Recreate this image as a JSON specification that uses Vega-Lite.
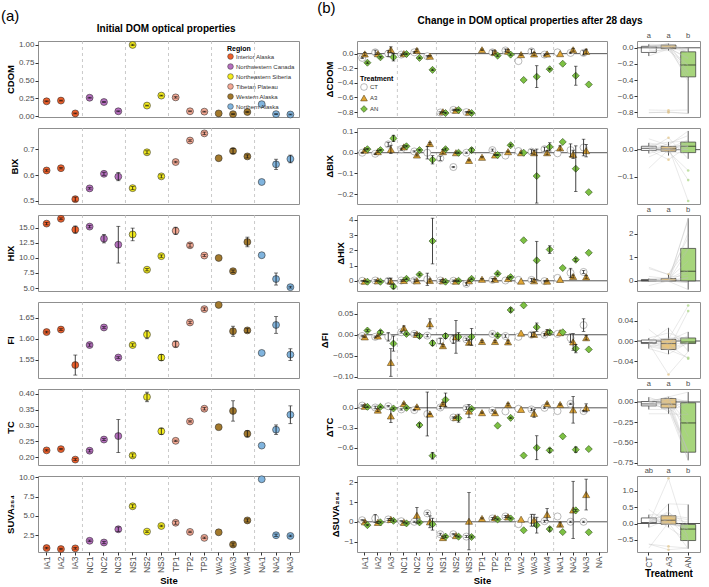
{
"$schema": "https://vega.github.io/schema/vega-lite/v6.json",
"background": "white",
"padding": {"left": 0, "top": 0, "right": 0, "bottom": 0},
"config": {
  "font": "Liberation Sans",
  "view": {"stroke": "#8F8F8F", "strokeWidth": 1},
  "axis": {"grid": false, "domain": false, "tickColor": "#333333", "tickSize": 3, "labelFontSize": 8, "labelColor": "#4D4D4D", "titleFontSize": 9.5, "titleFontWeight": "bold", "titleColor": "#000000", "labelPadding": 1, "titlePadding": 3, "labelOverlap": false},
  "legend": {"titleFontSize": 7, "titleFontWeight": "bold", "labelFontSize": 6, "titleColor": "#000000", "labelColor": "#333333", "padding": 1, "rowPadding": 1, "titlePadding": 1, "labelOffset": 2},
  "title": {"color": "#000000"}
},
"datasets": {
  "sep": [{"site": "NC1"}, {"site": "NS1"}, {"site": "TP1"}, {"site": "WA2"}, {"site": "NA1"}],
  "a": [
    {"site": "IA1", "region": "Interior Alaska", "CDOM": 0.21, "eCDOM": 0.006, "BIX": 0.618, "eBIX": 0.003, "HIX": 15.7, "eHIX": 0.2, "FI": 1.616, "eFI": 0.002, "TC": 0.222, "eTC": 0.002, "SUVA": 0.84, "eSUVA": 0.1},
    {"site": "IA2", "region": "Interior Alaska", "CDOM": 0.22, "eCDOM": 0.006, "BIX": 0.627, "eBIX": 0.003, "HIX": 16.5, "eHIX": 0.15, "FI": 1.622, "eFI": 0.002, "TC": 0.226, "eTC": 0.002, "SUVA": 0.71, "eSUVA": 0.1},
    {"site": "IA3", "region": "Interior Alaska", "CDOM": 0.04, "eCDOM": 0.006, "BIX": 0.506, "eBIX": 0.008, "HIX": 14.7, "eHIX": 0.6, "FI": 1.537, "eFI": 0.024, "TC": 0.193, "eTC": 0.003, "SUVA": 0.8, "eSUVA": 0.1},
    {"site": "NC1", "region": "Northwestern Canada", "CDOM": 0.26, "eCDOM": 0.006, "BIX": 0.548, "eBIX": 0.003, "HIX": 15.2, "eHIX": 0.2, "FI": 1.585, "eFI": 0.003, "TC": 0.221, "eTC": 0.004, "SUVA": 1.78, "eSUVA": 0.1},
    {"site": "NC2", "region": "Northwestern Canada", "CDOM": 0.2, "eCDOM": 0.006, "BIX": 0.605, "eBIX": 0.006, "HIX": 13.2, "eHIX": 0.7, "FI": 1.627, "eFI": 0.002, "TC": 0.256, "eTC": 0.003, "SUVA": 1.56, "eSUVA": 0.15},
    {"site": "NC3", "region": "Northwestern Canada", "CDOM": 0.07, "eCDOM": 0.006, "BIX": 0.594, "eBIX": 0.016, "HIX": 12.2, "eHIX": 3.05, "FI": 1.555, "eFI": 0.002, "TC": 0.267, "eTC": 0.052, "SUVA": 3.27, "eSUVA": 0.3},
    {"site": "NS1", "region": "Northeastern Siberia", "CDOM": 1.0, "eCDOM": 0.01, "BIX": 0.549, "eBIX": 0.006, "HIX": 13.9, "eHIX": 1.05, "FI": 1.585, "eFI": 0.003, "TC": 0.206, "eTC": 0.005, "SUVA": 6.25, "eSUVA": 0.2},
    {"site": "NS2", "region": "Northeastern Siberia", "CDOM": 0.15, "eCDOM": 0.006, "BIX": 0.689, "eBIX": 0.006, "HIX": 8.05, "eHIX": 0.2, "FI": 1.61, "eFI": 0.01, "TC": 0.39, "eTC": 0.015, "SUVA": 2.97, "eSUVA": 0.1},
    {"site": "NS3", "region": "Northeastern Siberia", "CDOM": 0.29, "eCDOM": 0.006, "BIX": 0.595, "eBIX": 0.006, "HIX": 10.3, "eHIX": 0.2, "FI": 1.555, "eFI": 0.007, "TC": 0.282, "eTC": 0.01, "SUVA": 3.7, "eSUVA": 0.1},
    {"site": "TP1", "region": "Tibetan Plateau", "CDOM": 0.265, "eCDOM": 0.01, "BIX": 0.651, "eBIX": 0.003, "HIX": 14.5, "eHIX": 0.6, "FI": 1.587, "eFI": 0.007, "TC": 0.252, "eTC": 0.002, "SUVA": 4.12, "eSUVA": 0.2},
    {"site": "TP2", "region": "Tibetan Plateau", "CDOM": 0.07, "eCDOM": 0.006, "BIX": 0.735, "eBIX": 0.003, "HIX": 12.1, "eHIX": 0.3, "FI": 1.639, "eFI": 0.003, "TC": 0.313, "eTC": 0.002, "SUVA": 2.93, "eSUVA": 0.1},
    {"site": "TP3", "region": "Tibetan Plateau", "CDOM": 0.065, "eCDOM": 0.006, "BIX": 0.763, "eBIX": 0.005, "HIX": 10.4, "eHIX": 0.15, "FI": 1.671, "eFI": 0.003, "TC": 0.353, "eTC": 0.004, "SUVA": 2.16, "eSUVA": 0.1},
    {"site": "WA2", "region": "Western Alaska", "CDOM": 0.04, "eCDOM": 0, "BIX": 0.666, "eBIX": 0, "HIX": 10.0, "eHIX": 0, "FI": 1.681, "eFI": 0, "TC": 0.295, "eTC": 0, "SUVA": 2.88, "eSUVA": 0},
    {"site": "WA3", "region": "Western Alaska", "CDOM": 0.03, "eCDOM": 0.006, "BIX": 0.694, "eBIX": 0.01, "HIX": 7.8, "eHIX": 0.2, "FI": 1.618, "eFI": 0.012, "TC": 0.346, "eTC": 0.032, "SUVA": 1.3, "eSUVA": 0.2},
    {"site": "WA4", "region": "Western Alaska", "CDOM": 0.06, "eCDOM": 0.006, "BIX": 0.673, "eBIX": 0.006, "HIX": 12.65, "eHIX": 0.8, "FI": 1.62, "eFI": 0.005, "TC": 0.274, "eTC": 0.01, "SUVA": 4.42, "eSUVA": 0.2},
    {"site": "NA1", "region": "Northern Alaska", "CDOM": 0.17, "eCDOM": 0, "BIX": 0.573, "eBIX": 0, "HIX": 10.45, "eHIX": 0, "FI": 1.566, "eFI": 0, "TC": 0.237, "eTC": 0, "SUVA": 9.75, "eSUVA": 0},
    {"site": "NA2", "region": "Northern Alaska", "CDOM": 0.03, "eCDOM": 0.006, "BIX": 0.642, "eBIX": 0.02, "HIX": 6.5, "eHIX": 1.0, "FI": 1.633, "eFI": 0.02, "TC": 0.287, "eTC": 0.015, "SUVA": 2.5, "eSUVA": 0.15},
    {"site": "NA3", "region": "Northern Alaska", "CDOM": 0.025, "eCDOM": 0.006, "BIX": 0.663, "eBIX": 0.015, "HIX": 5.15, "eHIX": 0.15, "FI": 1.562, "eFI": 0.014, "TC": 0.334, "eTC": 0.028, "SUVA": 2.41, "eSUVA": 0.1}
  ],
  "b": [
    {"s": "IA1", "t": "CT", "CDOM": -0.058, "eCDOM": 0.01, "BIX": 0, "eBIX": 0.002, "HIX": 0, "eHIX": 0.03, "FI": -0.003, "eFI": 0.002, "TC": 0.034, "eTC": 0.01, "SUVA": 0.08, "eSUVA": 0.03},
    {"s": "IA1", "t": "A3", "CDOM": -0.004, "eCDOM": 0.02, "BIX": 0.0125, "eBIX": 0.005, "HIX": -0.02, "eHIX": 0.03, "FI": -0.005, "eFI": 0.002, "TC": 0.024, "eTC": 0.02, "SUVA": 0, "eSUVA": 0.05},
    {"s": "IA1", "t": "AN", "CDOM": -0.124, "eCDOM": 0.01, "BIX": 0.017, "eBIX": 0.003, "HIX": -0.06, "eHIX": 0.03, "FI": 0.01, "eFI": 0.002, "TC": 0.015, "eTC": 0.01, "SUVA": -0.17, "eSUVA": 0.03},
    {"s": "IA2", "t": "CT", "CDOM": 0.018, "eCDOM": 0.03, "BIX": -0.005, "eBIX": 0.003, "HIX": 0.02, "eHIX": 0.05, "FI": -0.005, "eFI": 0.002, "TC": 0.005, "eTC": 0.02, "SUVA": 0.17, "eSUVA": 0.2},
    {"s": "IA2", "t": "A3", "CDOM": 0, "eCDOM": 0.01, "BIX": 0.005, "eBIX": 0.005, "HIX": 0, "eHIX": 0.03, "FI": -0.003, "eFI": 0.002, "TC": -0.034, "eTC": 0.02, "SUVA": -0.03, "eSUVA": 0.05},
    {"s": "IA2", "t": "AN", "CDOM": -0.05, "eCDOM": 0.01, "BIX": 0.0125, "eBIX": 0.003, "HIX": -0.06, "eHIX": 0.03, "FI": 0.006, "eFI": 0.004, "TC": 0.015, "eTC": 0.01, "SUVA": -0.03, "eSUVA": 0.03},
    {"s": "IA3", "t": "CT", "CDOM": 0, "eCDOM": 0.04, "BIX": 0.04, "eBIX": 0.01, "HIX": 0, "eHIX": 0.15, "FI": -0.005, "eFI": 0.01, "TC": 0.024, "eTC": 0.01, "SUVA": 0.12, "eSUVA": 0.05},
    {"s": "IA3", "t": "A3", "CDOM": 0.053, "eCDOM": 0.04, "BIX": 0.016, "eBIX": 0.02, "HIX": -0.02, "eHIX": 0.2, "FI": -0.066, "eFI": 0.033, "TC": -0.122, "eTC": 0.1, "SUVA": 0.12, "eSUVA": 0.05},
    {"s": "IA3", "t": "AN", "CDOM": -0.05, "eCDOM": 0.05, "BIX": 0.069, "eBIX": 0.015, "HIX": -0.37, "eHIX": 0.15, "FI": -0.021, "eFI": 0.018, "TC": -0.01, "eTC": 0.01, "SUVA": 0.05, "eSUVA": 0.05},
    {"s": "NC1", "t": "CT", "CDOM": -0.013, "eCDOM": 0.01, "BIX": 0.017, "eBIX": 0.005, "HIX": 0.02, "eHIX": 0.05, "FI": 0.006, "eFI": 0.002, "TC": -0.024, "eTC": 0.01, "SUVA": 0.03, "eSUVA": 0.03},
    {"s": "NC1", "t": "A3", "CDOM": 0, "eCDOM": 0.01, "BIX": 0.028, "eBIX": 0.005, "HIX": 0.02, "eHIX": 0.05, "FI": 0.016, "eFI": 0.005, "TC": 0.063, "eTC": 0.01, "SUVA": -0.03, "eSUVA": 0.03},
    {"s": "NC1", "t": "AN", "CDOM": -0.005, "eCDOM": 0.01, "BIX": 0.031, "eBIX": 0.003, "HIX": 0.13, "eHIX": 0.05, "FI": 0.002, "eFI": 0.002, "TC": 0, "eTC": 0.01, "SUVA": -0.08, "eSUVA": 0.03},
    {"s": "NC2", "t": "CT", "CDOM": 0.018, "eCDOM": 0.01, "BIX": 0.006, "eBIX": 0.003, "HIX": 0.02, "eHIX": 0.1, "FI": 0.002, "eFI": 0.003, "TC": -0.034, "eTC": 0.01, "SUVA": 0, "eSUVA": 0.03},
    {"s": "NC2", "t": "A3", "CDOM": 0.044, "eCDOM": 0.02, "BIX": -0.011, "eBIX": 0.005, "HIX": 0, "eHIX": 0.05, "FI": 0.001, "eFI": 0.003, "TC": 0.015, "eTC": 0.01, "SUVA": 0.33, "eSUVA": 0.4},
    {"s": "NC2", "t": "AN", "CDOM": -0.058, "eCDOM": 0.01, "BIX": 0.0125, "eBIX": 0.003, "HIX": 0.41, "eHIX": 0.05, "FI": -0.003, "eFI": 0.005, "TC": -0.259, "eTC": 0.03, "SUVA": -0.03, "eSUVA": 0.03},
    {"s": "NC3", "t": "CT", "CDOM": -0.035, "eCDOM": 0.01, "BIX": 0, "eBIX": 0.03, "HIX": 0.1, "eHIX": 0.4, "FI": -0.002, "eFI": 0.003, "TC": -0.093, "eTC": 0.33, "SUVA": 0.43, "eSUVA": 0.05},
    {"s": "NC3", "t": "A3", "CDOM": -0.035, "eCDOM": 0.01, "BIX": 0.044, "eBIX": 0.006, "HIX": 0.02, "eHIX": 0.1, "FI": 0.026, "eFI": 0.012, "TC": -0.093, "eTC": 0.01, "SUVA": 0, "eSUVA": 0.3},
    {"s": "NC3", "t": "AN", "CDOM": -0.222, "eCDOM": 0.01, "BIX": -0.034, "eBIX": 0.02, "HIX": 2.61, "eHIX": 1.5, "FI": -0.02, "eFI": 0.006, "TC": -0.72, "eTC": 0.05, "SUVA": -0.12, "eSUVA": 0.3},
    {"s": "NS1", "t": "CT", "CDOM": -0.805, "eCDOM": 0.01, "BIX": -0.027, "eBIX": 0.01, "HIX": 0.02, "eHIX": 0.05, "FI": -0.015, "eFI": 0.006, "TC": 0.005, "eTC": 0.02, "SUVA": -0.63, "eSUVA": 0.05},
    {"s": "NS1", "t": "A3", "CDOM": -0.795, "eCDOM": 0.01, "BIX": 0.005, "eBIX": 0.01, "HIX": 0, "eHIX": 0.1, "FI": -0.026, "eFI": 0.003, "TC": 0.063, "eTC": 0.02, "SUVA": -0.8, "eSUVA": 0.05},
    {"s": "NS1", "t": "AN", "CDOM": -0.813, "eCDOM": 0.01, "BIX": 0.017, "eBIX": 0.005, "HIX": -0.06, "eHIX": 0.05, "FI": -0.003, "eFI": 0.006, "TC": 0.122, "eTC": 0.1, "SUVA": -0.75, "eSUVA": 0.05},
    {"s": "NS2", "t": "CT", "CDOM": -0.77, "eCDOM": 0.01, "BIX": -0.069, "eBIX": 0.003, "HIX": 0, "eHIX": 0.05, "FI": -0.011, "eFI": 0.01, "TC": -0.146, "eTC": 0.01, "SUVA": -0.63, "eSUVA": 0.03},
    {"s": "NS2", "t": "A3", "CDOM": -0.775, "eCDOM": 0.01, "BIX": 0, "eBIX": 0.003, "HIX": -0.02, "eHIX": 0.05, "FI": -0.005, "eFI": 0.039, "TC": -0.146, "eTC": 0.01, "SUVA": -0.7, "eSUVA": 0.03},
    {"s": "NS2", "t": "AN", "CDOM": -0.77, "eCDOM": 0.01, "BIX": 0, "eBIX": 0.003, "HIX": 0, "eHIX": 0.05, "FI": -0.005, "eFI": 0.01, "TC": -0.156, "eTC": 0.06, "SUVA": -0.75, "eSUVA": 0.03},
    {"s": "NS3", "t": "CT", "CDOM": -0.8, "eCDOM": 0.01, "BIX": 0, "eBIX": 0.003, "HIX": -0.2, "eHIX": 0.1, "FI": -0.011, "eFI": 0.003, "TC": -0.005, "eTC": 0.02, "SUVA": -0.75, "eSUVA": 0.05},
    {"s": "NS3", "t": "A3", "CDOM": -0.8, "eCDOM": 0.01, "BIX": -0.037, "eBIX": 0.003, "HIX": 0, "eHIX": 0.05, "FI": -0.018, "eFI": 0.006, "TC": -0.049, "eTC": 0.1, "SUVA": 0.03, "eSUVA": 1.45},
    {"s": "NS3", "t": "AN", "CDOM": -0.813, "eCDOM": 0.01, "BIX": 0.0125, "eBIX": 0.01, "HIX": 0.13, "eHIX": 0.05, "FI": -0.005, "eFI": 0.02, "TC": -0.015, "eTC": 0.01, "SUVA": -0.77, "eSUVA": 0.05},
    {"s": "TP1", "t": "A3", "CDOM": 0.053, "eCDOM": 0.01, "BIX": -0.022, "eBIX": 0.003, "HIX": 0.1, "eHIX": 0.05, "FI": -0.016, "eFI": 0.003, "TC": -0.073, "eTC": 0.01, "SUVA": 0.17, "eSUVA": 0.03},
    {"s": "TP2", "t": "CT", "CDOM": 0.018, "eCDOM": 0.03, "BIX": 0.0125, "eBIX": 0.005, "HIX": 0.06, "eHIX": 0.1, "FI": 0.002, "eFI": 0.002, "TC": -0.039, "eTC": 0.01, "SUVA": 0.17, "eSUVA": 0.05},
    {"s": "TP2", "t": "A3", "CDOM": 0.018, "eCDOM": 0.02, "BIX": -0.011, "eBIX": 0.003, "HIX": 0.1, "eHIX": 0.05, "FI": -0.016, "eFI": 0.003, "TC": -0.073, "eTC": 0.01, "SUVA": 0.2, "eSUVA": 0.05},
    {"s": "TP2", "t": "AN", "CDOM": -0.027, "eCDOM": 0.01, "BIX": -0.011, "eBIX": 0.003, "HIX": 0.47, "eHIX": 0.05, "FI": -0.002, "eFI": 0.003, "TC": -0.268, "eTC": 0, "SUVA": 0.12, "eSUVA": 0.03},
    {"s": "TP3", "t": "CT", "CDOM": 0.044, "eCDOM": 0.02, "BIX": -0.014, "eBIX": 0, "HIX": 0.02, "eHIX": 0, "FI": -0.003, "eFI": 0.003, "TC": -0.054, "eTC": 0, "SUVA": 0.27, "eSUVA": 0.05},
    {"s": "TP3", "t": "A3", "CDOM": 0.035, "eCDOM": 0.02, "BIX": 0.005, "eBIX": 0.003, "HIX": 0.15, "eHIX": 0.05, "FI": -0.017, "eFI": 0.004, "TC": 0.049, "eTC": 0.02, "SUVA": 0.25, "eSUVA": 0.05},
    {"s": "TP3", "t": "AN", "CDOM": -0.013, "eCDOM": 0.01, "BIX": 0.036, "eBIX": 0.005, "HIX": 0.24, "eHIX": 0.05, "FI": 0.059, "eFI": 0.005, "TC": -0.151, "eTC": 0.01, "SUVA": 0.17, "eSUVA": 0.03},
    {"s": "WA2", "t": "CT", "CDOM": -0.102, "eCDOM": 0, "BIX": 0.008, "eBIX": 0, "HIX": 0.06, "eHIX": 0, "FI": -0.005, "eFI": 0, "TC": -0.015, "eTC": 0, "SUVA": -0.12, "eSUVA": 0},
    {"s": "WA2", "t": "A3", "CDOM": -0.013, "eCDOM": 0.01, "BIX": 0, "eBIX": 0.003, "HIX": -0.02, "eHIX": 0, "FI": 0.004, "eFI": 0, "TC": -0.024, "eTC": 0, "SUVA": 0.13, "eSUVA": 0},
    {"s": "WA2", "t": "AN", "CDOM": -0.36, "eCDOM": 0, "BIX": 0, "eBIX": 0, "HIX": 2.66, "eHIX": 0, "FI": 0.07, "eFI": 0, "TC": -0.717, "eTC": 0, "SUVA": -0.43, "eSUVA": 0},
    {"s": "WA3", "t": "CT", "CDOM": 0.031, "eCDOM": 0.03, "BIX": 0.005, "eBIX": 0.01, "HIX": 0.06, "eHIX": 0.1, "FI": 0, "eFI": 0.005, "TC": -0.024, "eTC": 0.02, "SUVA": 0.08, "eSUVA": 0.3},
    {"s": "WA3", "t": "A3", "CDOM": -0.004, "eCDOM": 0.02, "BIX": 0, "eBIX": 0.01, "HIX": 0, "eHIX": 0.1, "FI": 0.001, "eFI": 0.005, "TC": -0.083, "eTC": 0.06, "SUVA": 0.08, "eSUVA": 0.3},
    {"s": "WA3", "t": "AN", "CDOM": -0.315, "eCDOM": 0.15, "BIX": -0.1125, "eBIX": 0.13, "HIX": 1.34, "eHIX": 1.25, "FI": 0.018, "eFI": 0.01, "TC": -0.6, "eTC": 0.18, "SUVA": -0.17, "eSUVA": 0.4},
    {"s": "WA4", "t": "CT", "CDOM": -0.013, "eCDOM": 0.01, "BIX": 0.017, "eBIX": 0.01, "HIX": -0.02, "eHIX": 0.05, "FI": 0, "eFI": 0.003, "TC": 0, "eTC": 0.01, "SUVA": 0.03, "eSUVA": 0.05},
    {"s": "WA4", "t": "A3", "CDOM": -0.004, "eCDOM": 0.01, "BIX": 0, "eBIX": 0.01, "HIX": -0.02, "eHIX": 0.05, "FI": 0.006, "eFI": 0.006, "TC": 0.063, "eTC": 0.01, "SUVA": 0.37, "eSUVA": 0.3},
    {"s": "WA4", "t": "AN", "CDOM": -0.213, "eCDOM": 0.01, "BIX": 0.028, "eBIX": 0.02, "HIX": 2.05, "eHIX": 0.25, "FI": 0.006, "eFI": 0.004, "TC": -0.639, "eTC": 0.03, "SUVA": -0.37, "eSUVA": 0.1},
    {"s": "NA1", "t": "CT", "CDOM": 0.018, "eCDOM": 0, "BIX": -0.003, "eBIX": 0, "HIX": 0.19, "eHIX": 0, "FI": 0.002, "eFI": 0, "TC": -0.049, "eTC": 0, "SUVA": 0.27, "eSUVA": 0},
    {"s": "NA1", "t": "A3", "CDOM": 0, "eCDOM": 0, "BIX": 0.023, "eBIX": 0.01, "HIX": 0.09, "eHIX": 0, "FI": 0.005, "eFI": 0, "TC": 0.049, "eTC": 0.01, "SUVA": -0.12, "eSUVA": 0.1},
    {"s": "NA1", "t": "AN", "CDOM": -0.138, "eCDOM": 0, "BIX": 0.052, "eBIX": 0, "HIX": 0.84, "eHIX": 0, "FI": 0.006, "eFI": 0, "TC": -0.429, "eTC": 0, "SUVA": -0.52, "eSUVA": 0},
    {"s": "NA2", "t": "CT", "CDOM": 0.01, "eCDOM": 0.01, "BIX": 0.0125, "eBIX": 0.03, "HIX": 0.52, "eHIX": 0.3, "FI": -0.008, "eFI": 0.01, "TC": 0.059, "eTC": 0.01, "SUVA": 0, "eSUVA": 0.03},
    {"s": "NA2", "t": "A3", "CDOM": 0.053, "eCDOM": 0.02, "BIX": -0.008, "eBIX": 0.02, "HIX": 0.28, "eHIX": 0.1, "FI": -0.017, "eFI": 0.02, "TC": -0.03, "eTC": 0.2, "SUVA": 0.6, "eSUVA": 1.45},
    {"s": "NA2", "t": "AN", "CDOM": -0.302, "eCDOM": 0.13, "BIX": -0.077, "eBIX": 0.11, "HIX": 1.38, "eHIX": 0.1, "FI": -0.033, "eFI": 0.01, "TC": -0.629, "eTC": 0.04, "SUVA": 0.58, "eSUVA": 0.05},
    {"s": "NA3", "t": "CT", "CDOM": 0.01, "eCDOM": 0.03, "BIX": 0.025, "eBIX": 0.04, "HIX": 0.58, "eHIX": 0.1, "FI": 0.023, "eFI": 0.015, "TC": -0.049, "eTC": 0.01, "SUVA": 0, "eSUVA": 0.03},
    {"s": "NA3", "t": "A3", "CDOM": 0.031, "eCDOM": 0.03, "BIX": 0.01, "eBIX": 0.03, "HIX": 0.26, "eHIX": 0.1, "FI": -0.007, "eFI": 0.005, "TC": 0, "eTC": 0.06, "SUVA": 1.38, "eSUVA": 0.78},
    {"s": "NA3", "t": "AN", "CDOM": -0.422, "eCDOM": 0, "BIX": -0.19, "eBIX": 0, "HIX": 1.84, "eHIX": 0, "FI": -0.035, "eFI": 0, "TC": -0.62, "eTC": 0, "SUVA": -0.53, "eSUVA": 0}
  ],
  "letters": [
    {"m": "CDOM", "t": "CT", "l": "a"}, {"m": "CDOM", "t": "A3", "l": "a"}, {"m": "CDOM", "t": "AN", "l": "b"},
    {"m": "HIX", "t": "CT", "l": "a"}, {"m": "HIX", "t": "A3", "l": "a"}, {"m": "HIX", "t": "AN", "l": "b"},
    {"m": "TC", "t": "CT", "l": "a"}, {"m": "TC", "t": "A3", "l": "a"}, {"m": "TC", "t": "AN", "l": "b"},
    {"m": "SUVA", "t": "CT", "l": "ab"}, {"m": "SUVA", "t": "A3", "l": "a"}, {"m": "SUVA", "t": "AN", "l": "b"}
  ]
},
"resolve": {"scale": {"color": "independent", "fill": "independent", "shape": "independent", "stroke": "independent"}},
"spacing": 17,
"hconcat": [
{
  "title": {"text": "(a)", "anchor": "start", "frame": "bounds", "fontSize": 15, "fontWeight": "normal", "offset": 0, "dx": -4},
  "resolve": {"scale": {"color": "independent", "fill": "independent", "shape": "independent", "stroke": "independent"}},
  "vconcat": [
  {
    "title": {"text": "Initial DOM optical properties", "anchor": "middle", "frame": "bounds", "fontSize": 10, "fontWeight": "bold", "offset": 6, "dx": 14},
    "bounds": "flush",
    "spacing": 11,
    "resolve": {"scale": {"color": "independent", "fill": "independent", "shape": "independent", "stroke": "independent"}},
    "vconcat": [
      {"width": 261, "height": 76, "layer": [
        {"data": {"name": "sep"}, "mark": {"type": "rule", "strokeDash": [3, 3], "color": "#BDBDBD", "strokeWidth": 0.8}, "encoding": {"x": {"field": "site", "type": "nominal", "bandPosition": 0, "scale": {"domain": ["IA1","IA2","IA3","NC1","NC2","NC3","NS1","NS2","NS3","TP1","TP2","TP3","WA2","WA3","WA4","NA1","NA2","NA3"], "paddingInner": 0, "paddingOuter": 0.1}, "axis": null}}},
        {"data": {"name": "a"}, "mark": {"type": "circle", "size": 48, "stroke": "#333333", "strokeWidth": 0.6, "opacity": 1}, "encoding": {
          "x": {"field": "site", "type": "nominal", "scale": {"domain": ["IA1","IA2","IA3","NC1","NC2","NC3","NS1","NS2","NS3","TP1","TP2","TP3","WA2","WA3","WA4","NA1","NA2","NA3"], "paddingInner": 0, "paddingOuter": 0.1}, "axis": null},
          "y": {"field": "CDOM", "type": "quantitative", "scale": {"domain": [-0.01, 1.055], "nice": false, "zero": false}, "axis": {"title": "CDOM", "values": [0, 0.25, 0.5, 0.75, 1], "format": ".2f"}},
          "fill": {"field": "region", "type": "nominal", "scale": {"domain": ["Interior Alaska","Northwestern Canada","Northeastern Siberia","Tibetan Plateau","Western Alaska","Northern Alaska"], "range": ["#EF5F2A","#B66FBF","#F4EC1C","#F3A893","#A3792C","#80B4DE"]}, "legend": {"title": "Region", "orient": "top-right", "offset": 3, "symbolType": "circle", "symbolSize": 32, "symbolStrokeColor": "#333333", "symbolStrokeWidth": 0.5}}
        }},
        {"data": {"name": "a"}, "transform": [{"filter": "datum.eCDOM > 0"}], "mark": {"type": "errorbar", "ticks": {"size": 4}, "color": "#111111", "thickness": 0.8}, "encoding": {
          "x": {"field": "site", "type": "nominal", "scale": {"domain": ["IA1","IA2","IA3","NC1","NC2","NC3","NS1","NS2","NS3","TP1","TP2","TP3","WA2","WA3","WA4","NA1","NA2","NA3"], "paddingInner": 0, "paddingOuter": 0.1}, "axis": null},
          "y": {"field": "CDOM", "type": "quantitative", "scale": {"domain": [-0.01, 1.055], "nice": false, "zero": false}, "axis": {"title": "CDOM", "values": [0, 0.25, 0.5, 0.75, 1], "format": ".2f"}},
          "yError": {"field": "eCDOM"}
        }}
      ]},
      {"width": 261, "height": 76, "layer": [
        {"data": {"name": "sep"}, "mark": {"type": "rule", "strokeDash": [3, 3], "color": "#BDBDBD", "strokeWidth": 0.8}, "encoding": {"x": {"field": "site", "type": "nominal", "bandPosition": 0, "scale": {"domain": ["IA1","IA2","IA3","NC1","NC2","NC3","NS1","NS2","NS3","TP1","TP2","TP3","WA2","WA3","WA4","NA1","NA2","NA3"], "paddingInner": 0, "paddingOuter": 0.1}, "axis": null}}},
        {"data": {"name": "a"}, "mark": {"type": "circle", "size": 48, "stroke": "#333333", "strokeWidth": 0.6, "opacity": 1}, "encoding": {
          "x": {"field": "site", "type": "nominal", "scale": {"domain": ["IA1","IA2","IA3","NC1","NC2","NC3","NS1","NS2","NS3","TP1","TP2","TP3","WA2","WA3","WA4","NA1","NA2","NA3"], "paddingInner": 0, "paddingOuter": 0.1}, "axis": null},
          "y": {"field": "BIX", "type": "quantitative", "scale": {"domain": [0.487, 0.784], "nice": false, "zero": false}, "axis": {"title": "BIX", "values": [0.5, 0.6, 0.7], "format": ".1f"}},
          "fill": {"field": "region", "type": "nominal", "scale": {"domain": ["Interior Alaska","Northwestern Canada","Northeastern Siberia","Tibetan Plateau","Western Alaska","Northern Alaska"], "range": ["#EF5F2A","#B66FBF","#F4EC1C","#F3A893","#A3792C","#80B4DE"]}, "legend": null}
        }},
        {"data": {"name": "a"}, "transform": [{"filter": "datum.eBIX > 0"}], "mark": {"type": "errorbar", "ticks": {"size": 4}, "color": "#111111", "thickness": 0.8}, "encoding": {
          "x": {"field": "site", "type": "nominal", "scale": {"domain": ["IA1","IA2","IA3","NC1","NC2","NC3","NS1","NS2","NS3","TP1","TP2","TP3","WA2","WA3","WA4","NA1","NA2","NA3"], "paddingInner": 0, "paddingOuter": 0.1}, "axis": null},
          "y": {"field": "BIX", "type": "quantitative", "scale": {"domain": [0.487, 0.784], "nice": false, "zero": false}, "axis": {"title": "BIX", "values": [0.5, 0.6, 0.7], "format": ".1f"}},
          "yError": {"field": "eBIX"}
        }}
      ]},
      {"width": 261, "height": 76, "layer": [
        {"data": {"name": "sep"}, "mark": {"type": "rule", "strokeDash": [3, 3], "color": "#BDBDBD", "strokeWidth": 0.8}, "encoding": {"x": {"field": "site", "type": "nominal", "bandPosition": 0, "scale": {"domain": ["IA1","IA2","IA3","NC1","NC2","NC3","NS1","NS2","NS3","TP1","TP2","TP3","WA2","WA3","WA4","NA1","NA2","NA3"], "paddingInner": 0, "paddingOuter": 0.1}, "axis": null}}},
        {"data": {"name": "a"}, "mark": {"type": "circle", "size": 48, "stroke": "#333333", "strokeWidth": 0.6, "opacity": 1}, "encoding": {
          "x": {"field": "site", "type": "nominal", "scale": {"domain": ["IA1","IA2","IA3","NC1","NC2","NC3","NS1","NS2","NS3","TP1","TP2","TP3","WA2","WA3","WA4","NA1","NA2","NA3"], "paddingInner": 0, "paddingOuter": 0.1}, "axis": null},
          "y": {"field": "HIX", "type": "quantitative", "scale": {"domain": [4.51, 17.13], "nice": false, "zero": false}, "axis": {"title": "HIX", "values": [5, 7.5, 10, 12.5, 15], "format": ".1f"}},
          "fill": {"field": "region", "type": "nominal", "scale": {"domain": ["Interior Alaska","Northwestern Canada","Northeastern Siberia","Tibetan Plateau","Western Alaska","Northern Alaska"], "range": ["#EF5F2A","#B66FBF","#F4EC1C","#F3A893","#A3792C","#80B4DE"]}, "legend": null}
        }},
        {"data": {"name": "a"}, "transform": [{"filter": "datum.eHIX > 0"}], "mark": {"type": "errorbar", "ticks": {"size": 4}, "color": "#111111", "thickness": 0.8}, "encoding": {
          "x": {"field": "site", "type": "nominal", "scale": {"domain": ["IA1","IA2","IA3","NC1","NC2","NC3","NS1","NS2","NS3","TP1","TP2","TP3","WA2","WA3","WA4","NA1","NA2","NA3"], "paddingInner": 0, "paddingOuter": 0.1}, "axis": null},
          "y": {"field": "HIX", "type": "quantitative", "scale": {"domain": [4.51, 17.13], "nice": false, "zero": false}, "axis": {"title": "HIX", "values": [5, 7.5, 10, 12.5, 15], "format": ".1f"}},
          "yError": {"field": "eHIX"}
        }}
      ]},
      {"width": 261, "height": 76, "layer": [
        {"data": {"name": "sep"}, "mark": {"type": "rule", "strokeDash": [3, 3], "color": "#BDBDBD", "strokeWidth": 0.8}, "encoding": {"x": {"field": "site", "type": "nominal", "bandPosition": 0, "scale": {"domain": ["IA1","IA2","IA3","NC1","NC2","NC3","NS1","NS2","NS3","TP1","TP2","TP3","WA2","WA3","WA4","NA1","NA2","NA3"], "paddingInner": 0, "paddingOuter": 0.1}, "axis": null}}},
        {"data": {"name": "a"}, "mark": {"type": "circle", "size": 48, "stroke": "#333333", "strokeWidth": 0.6, "opacity": 1}, "encoding": {
          "x": {"field": "site", "type": "nominal", "scale": {"domain": ["IA1","IA2","IA3","NC1","NC2","NC3","NS1","NS2","NS3","TP1","TP2","TP3","WA2","WA3","WA4","NA1","NA2","NA3"], "paddingInner": 0, "paddingOuter": 0.1}, "axis": null},
          "y": {"field": "FI", "type": "quantitative", "scale": {"domain": [1.506, 1.688], "nice": false, "zero": false}, "axis": {"title": "FI", "values": [1.55, 1.6, 1.65], "format": ".2f"}},
          "fill": {"field": "region", "type": "nominal", "scale": {"domain": ["Interior Alaska","Northwestern Canada","Northeastern Siberia","Tibetan Plateau","Western Alaska","Northern Alaska"], "range": ["#EF5F2A","#B66FBF","#F4EC1C","#F3A893","#A3792C","#80B4DE"]}, "legend": null}
        }},
        {"data": {"name": "a"}, "transform": [{"filter": "datum.eFI > 0"}], "mark": {"type": "errorbar", "ticks": {"size": 4}, "color": "#111111", "thickness": 0.8}, "encoding": {
          "x": {"field": "site", "type": "nominal", "scale": {"domain": ["IA1","IA2","IA3","NC1","NC2","NC3","NS1","NS2","NS3","TP1","TP2","TP3","WA2","WA3","WA4","NA1","NA2","NA3"], "paddingInner": 0, "paddingOuter": 0.1}, "axis": null},
          "y": {"field": "FI", "type": "quantitative", "scale": {"domain": [1.506, 1.688], "nice": false, "zero": false}, "axis": {"title": "FI", "values": [1.55, 1.6, 1.65], "format": ".2f"}},
          "yError": {"field": "eFI"}
        }}
      ]},
      {"width": 261, "height": 76, "layer": [
        {"data": {"name": "sep"}, "mark": {"type": "rule", "strokeDash": [3, 3], "color": "#BDBDBD", "strokeWidth": 0.8}, "encoding": {"x": {"field": "site", "type": "nominal", "bandPosition": 0, "scale": {"domain": ["IA1","IA2","IA3","NC1","NC2","NC3","NS1","NS2","NS3","TP1","TP2","TP3","WA2","WA3","WA4","NA1","NA2","NA3"], "paddingInner": 0, "paddingOuter": 0.1}, "axis": null}}},
        {"data": {"name": "a"}, "mark": {"type": "circle", "size": 48, "stroke": "#333333", "strokeWidth": 0.6, "opacity": 1}, "encoding": {
          "x": {"field": "site", "type": "nominal", "scale": {"domain": ["IA1","IA2","IA3","NC1","NC2","NC3","NS1","NS2","NS3","TP1","TP2","TP3","WA2","WA3","WA4","NA1","NA2","NA3"], "paddingInner": 0, "paddingOuter": 0.1}, "axis": null},
          "y": {"field": "TC", "type": "quantitative", "scale": {"domain": [0.176, 0.415], "nice": false, "zero": false}, "axis": {"title": "TC", "values": [0.2, 0.25, 0.3, 0.35, 0.4], "format": ".2f"}},
          "fill": {"field": "region", "type": "nominal", "scale": {"domain": ["Interior Alaska","Northwestern Canada","Northeastern Siberia","Tibetan Plateau","Western Alaska","Northern Alaska"], "range": ["#EF5F2A","#B66FBF","#F4EC1C","#F3A893","#A3792C","#80B4DE"]}, "legend": null}
        }},
        {"data": {"name": "a"}, "transform": [{"filter": "datum.eTC > 0"}], "mark": {"type": "errorbar", "ticks": {"size": 4}, "color": "#111111", "thickness": 0.8}, "encoding": {
          "x": {"field": "site", "type": "nominal", "scale": {"domain": ["IA1","IA2","IA3","NC1","NC2","NC3","NS1","NS2","NS3","TP1","TP2","TP3","WA2","WA3","WA4","NA1","NA2","NA3"], "paddingInner": 0, "paddingOuter": 0.1}, "axis": null},
          "y": {"field": "TC", "type": "quantitative", "scale": {"domain": [0.176, 0.415], "nice": false, "zero": false}, "axis": {"title": "TC", "values": [0.2, 0.25, 0.3, 0.35, 0.4], "format": ".2f"}},
          "yError": {"field": "eTC"}
        }}
      ]},
      {"width": 261, "height": 76, "layer": [
        {"data": {"name": "sep"}, "mark": {"type": "rule", "strokeDash": [3, 3], "color": "#BDBDBD", "strokeWidth": 0.8}, "encoding": {"x": {"field": "site", "type": "nominal", "bandPosition": 0, "scale": {"domain": ["IA1","IA2","IA3","NC1","NC2","NC3","NS1","NS2","NS3","TP1","TP2","TP3","WA2","WA3","WA4","NA1","NA2","NA3"], "paddingInner": 0, "paddingOuter": 0.1}, "axis": {"title": "Site", "labelAngle": -90, "labelFontSize": 8.5, "titlePadding": 1}}}},
        {"data": {"name": "a"}, "mark": {"type": "circle", "size": 48, "stroke": "#333333", "strokeWidth": 0.6, "opacity": 1}, "encoding": {
          "x": {"field": "site", "type": "nominal", "scale": {"domain": ["IA1","IA2","IA3","NC1","NC2","NC3","NS1","NS2","NS3","TP1","TP2","TP3","WA2","WA3","WA4","NA1","NA2","NA3"], "paddingInner": 0, "paddingOuter": 0.1}, "axis": {"title": "Site", "labelAngle": -90, "labelFontSize": 8.5, "titlePadding": 1}},
          "y": {"field": "SUVA", "type": "quantitative", "scale": {"domain": [0.33, 10.17], "nice": false, "zero": false}, "axis": {"title": "SUVA₂₅₄", "values": [2.5, 5, 7.5, 10], "format": ".1f"}},
          "fill": {"field": "region", "type": "nominal", "scale": {"domain": ["Interior Alaska","Northwestern Canada","Northeastern Siberia","Tibetan Plateau","Western Alaska","Northern Alaska"], "range": ["#EF5F2A","#B66FBF","#F4EC1C","#F3A893","#A3792C","#80B4DE"]}, "legend": null}
        }},
        {"data": {"name": "a"}, "transform": [{"filter": "datum.eSUVA > 0"}], "mark": {"type": "errorbar", "ticks": {"size": 4}, "color": "#111111", "thickness": 0.8}, "encoding": {
          "x": {"field": "site", "type": "nominal", "scale": {"domain": ["IA1","IA2","IA3","NC1","NC2","NC3","NS1","NS2","NS3","TP1","TP2","TP3","WA2","WA3","WA4","NA1","NA2","NA3"], "paddingInner": 0, "paddingOuter": 0.1}, "axis": {"title": "Site", "labelAngle": -90, "labelFontSize": 8.5, "titlePadding": 1}},
          "y": {"field": "SUVA", "type": "quantitative", "scale": {"domain": [0.33, 10.17], "nice": false, "zero": false}, "axis": {"title": "SUVA₂₅₄", "values": [2.5, 5, 7.5, 10], "format": ".1f"}},
          "yError": {"field": "eSUVA"}
        }}
      ]}
    ]
  }
  ]
},
{
  "title": {"text": "(b)", "anchor": "start", "frame": "bounds", "fontSize": 15, "fontWeight": "normal", "offset": 0, "dx": -2},
  "resolve": {"scale": {"color": "independent", "fill": "independent", "shape": "independent", "stroke": "independent"}},
  "vconcat": [
  {
    "title": {"text": "Change in DOM optical properties after 28 days", "anchor": "middle", "frame": "bounds", "fontSize": 10, "fontWeight": "bold", "offset": 6, "dx": 20},
    "bounds": "flush",
    "columns": 2,
    "spacing": {"row": 11, "column": 30},
    "resolve": {"scale": {"color": "independent", "fill": "independent", "shape": "independent", "stroke": "independent"}},
    "concat": [
        {"width": 250, "height": 76, "layer": [
          {"data": {"name": "sep"}, "mark": {"type": "rule", "strokeDash": [3, 3], "color": "#BDBDBD", "strokeWidth": 0.8}, "encoding": {"x": {"field": "site", "type": "nominal", "bandPosition": 0, "scale": {"domain": ["IA1","IA2","IA3","NC1","NC2","NC3","NS1","NS2","NS3","TP1","TP2","TP3","WA2","WA3","WA4","NA1","NA2","NA3","NA"], "paddingInner": 0, "paddingOuter": 0.1}, "axis": null}}},
          {"data": {"values": [{}]}, "mark": {"type": "rule", "color": "#555555", "strokeWidth": 1}, "encoding": {"y": {"datum": 0, "type": "quantitative", "scale": {"domain": [-0.867, 0.173], "nice": false, "zero": false}, "axis": {"title": "ΔCDOM", "values": [0, -0.2, -0.4, -0.6, -0.8], "format": ".1f"}}}},
          {"data": {"name": "b"}, "mark": {"type": "point", "filled": true, "size": 50, "strokeWidth": 0.6, "opacity": 1}, "encoding": {
            "x": {"field": "s", "type": "nominal", "scale": {"domain": ["IA1","IA2","IA3","NC1","NC2","NC3","NS1","NS2","NS3","TP1","TP2","TP3","WA2","WA3","WA4","NA1","NA2","NA3","NA"], "paddingInner": 0, "paddingOuter": 0.1}, "axis": null},
            "xOffset": {"field": "t", "type": "nominal", "scale": {"domain": ["CT","A3","AN"], "paddingInner": 0, "paddingOuter": 1.4}},
            "y": {"field": "CDOM", "type": "quantitative", "scale": {"domain": [-0.867, 0.173], "nice": false, "zero": false}, "axis": {"title": "ΔCDOM", "values": [0, -0.2, -0.4, -0.6, -0.8], "format": ".1f"}},
            "shape": {"field": "t", "type": "nominal", "scale": {"domain": ["CT","A3","AN"], "range": ["circle","triangle-up","diamond"]}, "legend": {"title": "Treatment", "orient": "bottom-left", "offset": 2, "symbolSize": 45, "symbolStrokeWidth": 0.6}},
            "fill": {"field": "t", "type": "nominal", "scale": {"domain": ["CT","A3","AN"], "range": ["#FFFFFF","#E0A534","#7DC143"]}, "legend": {"title": "Treatment", "orient": "bottom-left", "offset": 2, "symbolSize": 45, "symbolStrokeWidth": 0.6}},
            "stroke": {"field": "t", "type": "nominal", "scale": {"domain": ["CT","A3","AN"], "range": ["#8C8C8C","#5A4720","#2F4F1A"]}, "legend": {"title": "Treatment", "orient": "bottom-left", "offset": 2, "symbolSize": 45, "symbolStrokeWidth": 0.6}}
          }},
          {"data": {"name": "b"}, "transform": [{"filter": "datum.eCDOM > 0"}], "mark": {"type": "errorbar", "ticks": {"size": 3.5}, "color": "#111111", "thickness": 0.8}, "encoding": {
            "x": {"field": "s", "type": "nominal", "scale": {"domain": ["IA1","IA2","IA3","NC1","NC2","NC3","NS1","NS2","NS3","TP1","TP2","TP3","WA2","WA3","WA4","NA1","NA2","NA3","NA"], "paddingInner": 0, "paddingOuter": 0.1}, "axis": null},
            "xOffset": {"field": "t", "type": "nominal", "scale": {"domain": ["CT","A3","AN"], "paddingInner": 0, "paddingOuter": 1.4}},
            "y": {"field": "CDOM", "type": "quantitative", "scale": {"domain": [-0.867, 0.173], "nice": false, "zero": false}, "axis": {"title": "ΔCDOM", "values": [0, -0.2, -0.4, -0.6, -0.8], "format": ".1f"}},
            "yError": {"field": "eCDOM"}
          }}
        ]},
        {"width": 63, "height": 76, "layer": [
          {"data": {"values": [{}]}, "mark": {"type": "rule", "color": "#555555", "strokeWidth": 1}, "encoding": {"y": {"datum": 0, "type": "quantitative", "scale": {"domain": [-0.857, 0.084], "nice": false, "zero": false}, "axis": {"title": null, "values": [0, -0.2, -0.4, -0.6, -0.8], "format": ".1f"}}}},
          {"data": {"name": "b"}, "mark": {"type": "boxplot", "extent": 1.5, "size": 15, "median": {"color": "#1A1A1A", "strokeWidth": 1.2}, "rule": {"color": "#333333", "strokeWidth": 0.8}, "ticks": false, "outliers": {"color": "#808080", "size": 7, "filled": true}, "box": {"stroke": "#333333", "strokeWidth": 0.7}}, "encoding": {
            "x": {"field": "t", "type": "nominal", "scale": {"domain": ["CT","A3","AN"], "paddingInner": 0, "paddingOuter": 0.1}, "axis": null},
            "y": {"field": "CDOM", "type": "quantitative", "scale": {"domain": [-0.857, 0.084], "nice": false, "zero": false}, "axis": {"title": null, "values": [0, -0.2, -0.4, -0.6, -0.8], "format": ".1f"}},
            "color": {"field": "t", "type": "nominal", "scale": {"domain": ["CT","A3","AN"], "range": ["#FFFFFF","#E8C57E","#A7D57C"]}, "legend": null}
          }},
          {"data": {"name": "b"}, "mark": {"type": "line", "color": "#BBBBBB", "strokeWidth": 0.6, "opacity": 0.55}, "encoding": {
            "x": {"field": "t", "type": "nominal", "scale": {"domain": ["CT","A3","AN"], "paddingInner": 0, "paddingOuter": 0.1}, "axis": null},
            "y": {"field": "CDOM", "type": "quantitative", "scale": {"domain": [-0.857, 0.084], "nice": false, "zero": false}, "axis": {"title": null, "values": [0, -0.2, -0.4, -0.6, -0.8], "format": ".1f"}},
            "detail": {"field": "s"}, "order": {"value": null}
          }},
          {"data": {"name": "letters"}, "transform": [{"filter": "datum.m == 'CDOM'"}], "mark": {"type": "text", "baseline": "bottom", "dy": -1, "fontSize": 7.5, "color": "#4D4D4D", "fill": "#4D4D4D"}, "encoding": {
            "x": {"field": "t", "type": "nominal", "scale": {"domain": ["CT","A3","AN"], "paddingInner": 0, "paddingOuter": 0.1}, "axis": null},
            "y": {"datum": 0.084, "type": "quantitative", "scale": {"domain": [-0.857, 0.084], "nice": false, "zero": false}, "axis": {"title": null, "values": [0, -0.2, -0.4, -0.6, -0.8], "format": ".1f"}}, "text": {"field": "l"}
          }}
        ]},
        {"width": 250, "height": 76, "layer": [
          {"data": {"name": "sep"}, "mark": {"type": "rule", "strokeDash": [3, 3], "color": "#BDBDBD", "strokeWidth": 0.8}, "encoding": {"x": {"field": "site", "type": "nominal", "bandPosition": 0, "scale": {"domain": ["IA1","IA2","IA3","NC1","NC2","NC3","NS1","NS2","NS3","TP1","TP2","TP3","WA2","WA3","WA4","NA1","NA2","NA3","NA"], "paddingInner": 0, "paddingOuter": 0.1}, "axis": null}}},
          {"data": {"values": [{}]}, "mark": {"type": "rule", "color": "#555555", "strokeWidth": 1}, "encoding": {"y": {"datum": 0, "type": "quantitative", "scale": {"domain": [-0.247, 0.119], "nice": false, "zero": false}, "axis": {"title": "ΔBIX", "values": [0.1, 0, -0.1, -0.2], "format": ".1f"}}}},
          {"data": {"name": "b"}, "mark": {"type": "point", "filled": true, "size": 50, "strokeWidth": 0.6, "opacity": 1}, "encoding": {
            "x": {"field": "s", "type": "nominal", "scale": {"domain": ["IA1","IA2","IA3","NC1","NC2","NC3","NS1","NS2","NS3","TP1","TP2","TP3","WA2","WA3","WA4","NA1","NA2","NA3","NA"], "paddingInner": 0, "paddingOuter": 0.1}, "axis": null},
            "xOffset": {"field": "t", "type": "nominal", "scale": {"domain": ["CT","A3","AN"], "paddingInner": 0, "paddingOuter": 1.4}},
            "y": {"field": "BIX", "type": "quantitative", "scale": {"domain": [-0.247, 0.119], "nice": false, "zero": false}, "axis": {"title": "ΔBIX", "values": [0.1, 0, -0.1, -0.2], "format": ".1f"}},
            "shape": {"field": "t", "type": "nominal", "scale": {"domain": ["CT","A3","AN"], "range": ["circle","triangle-up","diamond"]}, "legend": null},
            "fill": {"field": "t", "type": "nominal", "scale": {"domain": ["CT","A3","AN"], "range": ["#FFFFFF","#E0A534","#7DC143"]}, "legend": null},
            "stroke": {"field": "t", "type": "nominal", "scale": {"domain": ["CT","A3","AN"], "range": ["#8C8C8C","#5A4720","#2F4F1A"]}, "legend": null}
          }},
          {"data": {"name": "b"}, "transform": [{"filter": "datum.eBIX > 0"}], "mark": {"type": "errorbar", "ticks": {"size": 3.5}, "color": "#111111", "thickness": 0.8}, "encoding": {
            "x": {"field": "s", "type": "nominal", "scale": {"domain": ["IA1","IA2","IA3","NC1","NC2","NC3","NS1","NS2","NS3","TP1","TP2","TP3","WA2","WA3","WA4","NA1","NA2","NA3","NA"], "paddingInner": 0, "paddingOuter": 0.1}, "axis": null},
            "xOffset": {"field": "t", "type": "nominal", "scale": {"domain": ["CT","A3","AN"], "paddingInner": 0, "paddingOuter": 1.4}},
            "y": {"field": "BIX", "type": "quantitative", "scale": {"domain": [-0.247, 0.119], "nice": false, "zero": false}, "axis": {"title": "ΔBIX", "values": [0.1, 0, -0.1, -0.2], "format": ".1f"}},
            "yError": {"field": "eBIX"}
          }}
        ]},
        {"width": 63, "height": 76, "layer": [
          {"data": {"values": [{}]}, "mark": {"type": "rule", "color": "#555555", "strokeWidth": 1}, "encoding": {"y": {"datum": 0, "type": "quantitative", "scale": {"domain": [-0.201, 0.08], "nice": false, "zero": false}, "axis": {"title": null, "values": [0, -0.1], "format": ".1f"}}}},
          {"data": {"name": "b"}, "mark": {"type": "boxplot", "extent": 1.5, "size": 15, "median": {"color": "#1A1A1A", "strokeWidth": 1.2}, "rule": {"color": "#333333", "strokeWidth": 0.8}, "ticks": false, "outliers": {"color": "#808080", "size": 7, "filled": true}, "box": {"stroke": "#333333", "strokeWidth": 0.7}}, "encoding": {
            "x": {"field": "t", "type": "nominal", "scale": {"domain": ["CT","A3","AN"], "paddingInner": 0, "paddingOuter": 0.1}, "axis": null},
            "y": {"field": "BIX", "type": "quantitative", "scale": {"domain": [-0.201, 0.08], "nice": false, "zero": false}, "axis": {"title": null, "values": [0, -0.1], "format": ".1f"}},
            "color": {"field": "t", "type": "nominal", "scale": {"domain": ["CT","A3","AN"], "range": ["#FFFFFF","#E8C57E","#A7D57C"]}, "legend": null}
          }},
          {"data": {"name": "b"}, "mark": {"type": "line", "color": "#BBBBBB", "strokeWidth": 0.6, "opacity": 0.55}, "encoding": {
            "x": {"field": "t", "type": "nominal", "scale": {"domain": ["CT","A3","AN"], "paddingInner": 0, "paddingOuter": 0.1}, "axis": null},
            "y": {"field": "BIX", "type": "quantitative", "scale": {"domain": [-0.201, 0.08], "nice": false, "zero": false}, "axis": {"title": null, "values": [0, -0.1], "format": ".1f"}},
            "detail": {"field": "s"}, "order": {"value": null}
          }}
        ]},
        {"width": 250, "height": 76, "layer": [
          {"data": {"name": "sep"}, "mark": {"type": "rule", "strokeDash": [3, 3], "color": "#BDBDBD", "strokeWidth": 0.8}, "encoding": {"x": {"field": "site", "type": "nominal", "bandPosition": 0, "scale": {"domain": ["IA1","IA2","IA3","NC1","NC2","NC3","NS1","NS2","NS3","TP1","TP2","TP3","WA2","WA3","WA4","NA1","NA2","NA3","NA"], "paddingInner": 0, "paddingOuter": 0.1}, "axis": null}}},
          {"data": {"values": [{}]}, "mark": {"type": "rule", "color": "#555555", "strokeWidth": 1}, "encoding": {"y": {"datum": 0, "type": "quantitative", "scale": {"domain": [-0.67, 4.32], "nice": false, "zero": false}, "axis": {"title": "ΔHIX", "values": [0, 1, 2, 3, 4], "format": "d"}}}},
          {"data": {"name": "b"}, "mark": {"type": "point", "filled": true, "size": 50, "strokeWidth": 0.6, "opacity": 1}, "encoding": {
            "x": {"field": "s", "type": "nominal", "scale": {"domain": ["IA1","IA2","IA3","NC1","NC2","NC3","NS1","NS2","NS3","TP1","TP2","TP3","WA2","WA3","WA4","NA1","NA2","NA3","NA"], "paddingInner": 0, "paddingOuter": 0.1}, "axis": null},
            "xOffset": {"field": "t", "type": "nominal", "scale": {"domain": ["CT","A3","AN"], "paddingInner": 0, "paddingOuter": 1.4}},
            "y": {"field": "HIX", "type": "quantitative", "scale": {"domain": [-0.67, 4.32], "nice": false, "zero": false}, "axis": {"title": "ΔHIX", "values": [0, 1, 2, 3, 4], "format": "d"}},
            "shape": {"field": "t", "type": "nominal", "scale": {"domain": ["CT","A3","AN"], "range": ["circle","triangle-up","diamond"]}, "legend": null},
            "fill": {"field": "t", "type": "nominal", "scale": {"domain": ["CT","A3","AN"], "range": ["#FFFFFF","#E0A534","#7DC143"]}, "legend": null},
            "stroke": {"field": "t", "type": "nominal", "scale": {"domain": ["CT","A3","AN"], "range": ["#8C8C8C","#5A4720","#2F4F1A"]}, "legend": null}
          }},
          {"data": {"name": "b"}, "transform": [{"filter": "datum.eHIX > 0"}], "mark": {"type": "errorbar", "ticks": {"size": 3.5}, "color": "#111111", "thickness": 0.8}, "encoding": {
            "x": {"field": "s", "type": "nominal", "scale": {"domain": ["IA1","IA2","IA3","NC1","NC2","NC3","NS1","NS2","NS3","TP1","TP2","TP3","WA2","WA3","WA4","NA1","NA2","NA3","NA"], "paddingInner": 0, "paddingOuter": 0.1}, "axis": null},
            "xOffset": {"field": "t", "type": "nominal", "scale": {"domain": ["CT","A3","AN"], "paddingInner": 0, "paddingOuter": 1.4}},
            "y": {"field": "HIX", "type": "quantitative", "scale": {"domain": [-0.67, 4.32], "nice": false, "zero": false}, "axis": {"title": "ΔHIX", "values": [0, 1, 2, 3, 4], "format": "d"}},
            "yError": {"field": "eHIX"}
          }}
        ]},
        {"width": 63, "height": 76, "layer": [
          {"data": {"values": [{}]}, "mark": {"type": "rule", "color": "#555555", "strokeWidth": 1}, "encoding": {"y": {"datum": 0, "type": "quantitative", "scale": {"domain": [-0.43, 2.8], "nice": false, "zero": false}, "axis": {"title": null, "values": [0, 1, 2], "format": "d"}}}},
          {"data": {"name": "b"}, "mark": {"type": "boxplot", "extent": 1.5, "size": 15, "median": {"color": "#1A1A1A", "strokeWidth": 1.2}, "rule": {"color": "#333333", "strokeWidth": 0.8}, "ticks": false, "outliers": {"color": "#808080", "size": 7, "filled": true}, "box": {"stroke": "#333333", "strokeWidth": 0.7}}, "encoding": {
            "x": {"field": "t", "type": "nominal", "scale": {"domain": ["CT","A3","AN"], "paddingInner": 0, "paddingOuter": 0.1}, "axis": null},
            "y": {"field": "HIX", "type": "quantitative", "scale": {"domain": [-0.43, 2.8], "nice": false, "zero": false}, "axis": {"title": null, "values": [0, 1, 2], "format": "d"}},
            "color": {"field": "t", "type": "nominal", "scale": {"domain": ["CT","A3","AN"], "range": ["#FFFFFF","#E8C57E","#A7D57C"]}, "legend": null}
          }},
          {"data": {"name": "b"}, "mark": {"type": "line", "color": "#BBBBBB", "strokeWidth": 0.6, "opacity": 0.55}, "encoding": {
            "x": {"field": "t", "type": "nominal", "scale": {"domain": ["CT","A3","AN"], "paddingInner": 0, "paddingOuter": 0.1}, "axis": null},
            "y": {"field": "HIX", "type": "quantitative", "scale": {"domain": [-0.43, 2.8], "nice": false, "zero": false}, "axis": {"title": null, "values": [0, 1, 2], "format": "d"}},
            "detail": {"field": "s"}, "order": {"value": null}
          }},
          {"data": {"name": "letters"}, "transform": [{"filter": "datum.m == 'HIX'"}], "mark": {"type": "text", "baseline": "bottom", "dy": -1, "fontSize": 7.5, "color": "#4D4D4D", "fill": "#4D4D4D"}, "encoding": {
            "x": {"field": "t", "type": "nominal", "scale": {"domain": ["CT","A3","AN"], "paddingInner": 0, "paddingOuter": 0.1}, "axis": null},
            "y": {"datum": 2.8, "type": "quantitative", "scale": {"domain": [-0.43, 2.8], "nice": false, "zero": false}, "axis": {"title": null, "values": [0, 1, 2], "format": "d"}}, "text": {"field": "l"}
          }}
        ]},
        {"width": 250, "height": 76, "layer": [
          {"data": {"name": "sep"}, "mark": {"type": "rule", "strokeDash": [3, 3], "color": "#BDBDBD", "strokeWidth": 0.8}, "encoding": {"x": {"field": "site", "type": "nominal", "bandPosition": 0, "scale": {"domain": ["IA1","IA2","IA3","NC1","NC2","NC3","NS1","NS2","NS3","TP1","TP2","TP3","WA2","WA3","WA4","NA1","NA2","NA3","NA"], "paddingInner": 0, "paddingOuter": 0.1}, "axis": null}}},
          {"data": {"values": [{}]}, "mark": {"type": "rule", "color": "#555555", "strokeWidth": 1}, "encoding": {"y": {"datum": 0, "type": "quantitative", "scale": {"domain": [-0.103, 0.078], "nice": false, "zero": false}, "axis": {"title": "ΔFI", "values": [0.05, 0, -0.05, -0.1], "format": ".2f"}}}},
          {"data": {"name": "b"}, "mark": {"type": "point", "filled": true, "size": 50, "strokeWidth": 0.6, "opacity": 1}, "encoding": {
            "x": {"field": "s", "type": "nominal", "scale": {"domain": ["IA1","IA2","IA3","NC1","NC2","NC3","NS1","NS2","NS3","TP1","TP2","TP3","WA2","WA3","WA4","NA1","NA2","NA3","NA"], "paddingInner": 0, "paddingOuter": 0.1}, "axis": null},
            "xOffset": {"field": "t", "type": "nominal", "scale": {"domain": ["CT","A3","AN"], "paddingInner": 0, "paddingOuter": 1.4}},
            "y": {"field": "FI", "type": "quantitative", "scale": {"domain": [-0.103, 0.078], "nice": false, "zero": false}, "axis": {"title": "ΔFI", "values": [0.05, 0, -0.05, -0.1], "format": ".2f"}},
            "shape": {"field": "t", "type": "nominal", "scale": {"domain": ["CT","A3","AN"], "range": ["circle","triangle-up","diamond"]}, "legend": null},
            "fill": {"field": "t", "type": "nominal", "scale": {"domain": ["CT","A3","AN"], "range": ["#FFFFFF","#E0A534","#7DC143"]}, "legend": null},
            "stroke": {"field": "t", "type": "nominal", "scale": {"domain": ["CT","A3","AN"], "range": ["#8C8C8C","#5A4720","#2F4F1A"]}, "legend": null}
          }},
          {"data": {"name": "b"}, "transform": [{"filter": "datum.eFI > 0"}], "mark": {"type": "errorbar", "ticks": {"size": 3.5}, "color": "#111111", "thickness": 0.8}, "encoding": {
            "x": {"field": "s", "type": "nominal", "scale": {"domain": ["IA1","IA2","IA3","NC1","NC2","NC3","NS1","NS2","NS3","TP1","TP2","TP3","WA2","WA3","WA4","NA1","NA2","NA3","NA"], "paddingInner": 0, "paddingOuter": 0.1}, "axis": null},
            "xOffset": {"field": "t", "type": "nominal", "scale": {"domain": ["CT","A3","AN"], "paddingInner": 0, "paddingOuter": 1.4}},
            "y": {"field": "FI", "type": "quantitative", "scale": {"domain": [-0.103, 0.078], "nice": false, "zero": false}, "axis": {"title": "ΔFI", "values": [0.05, 0, -0.05, -0.1], "format": ".2f"}},
            "yError": {"field": "eFI"}
          }}
        ]},
        {"width": 63, "height": 76, "layer": [
          {"data": {"values": [{}]}, "mark": {"type": "rule", "color": "#555555", "strokeWidth": 1}, "encoding": {"y": {"datum": 0, "type": "quantitative", "scale": {"domain": [-0.073, 0.077], "nice": false, "zero": false}, "axis": {"title": null, "values": [0.04, 0, -0.04], "format": ".2f"}}}},
          {"data": {"name": "b"}, "mark": {"type": "boxplot", "extent": 1.5, "size": 15, "median": {"color": "#1A1A1A", "strokeWidth": 1.2}, "rule": {"color": "#333333", "strokeWidth": 0.8}, "ticks": false, "outliers": {"color": "#808080", "size": 7, "filled": true}, "box": {"stroke": "#333333", "strokeWidth": 0.7}}, "encoding": {
            "x": {"field": "t", "type": "nominal", "scale": {"domain": ["CT","A3","AN"], "paddingInner": 0, "paddingOuter": 0.1}, "axis": null},
            "y": {"field": "FI", "type": "quantitative", "scale": {"domain": [-0.073, 0.077], "nice": false, "zero": false}, "axis": {"title": null, "values": [0.04, 0, -0.04], "format": ".2f"}},
            "color": {"field": "t", "type": "nominal", "scale": {"domain": ["CT","A3","AN"], "range": ["#FFFFFF","#E8C57E","#A7D57C"]}, "legend": null}
          }},
          {"data": {"name": "b"}, "mark": {"type": "line", "color": "#BBBBBB", "strokeWidth": 0.6, "opacity": 0.55}, "encoding": {
            "x": {"field": "t", "type": "nominal", "scale": {"domain": ["CT","A3","AN"], "paddingInner": 0, "paddingOuter": 0.1}, "axis": null},
            "y": {"field": "FI", "type": "quantitative", "scale": {"domain": [-0.073, 0.077], "nice": false, "zero": false}, "axis": {"title": null, "values": [0.04, 0, -0.04], "format": ".2f"}},
            "detail": {"field": "s"}, "order": {"value": null}
          }}
        ]},
        {"width": 250, "height": 76, "layer": [
          {"data": {"name": "sep"}, "mark": {"type": "rule", "strokeDash": [3, 3], "color": "#BDBDBD", "strokeWidth": 0.8}, "encoding": {"x": {"field": "site", "type": "nominal", "bandPosition": 0, "scale": {"domain": ["IA1","IA2","IA3","NC1","NC2","NC3","NS1","NS2","NS3","TP1","TP2","TP3","WA2","WA3","WA4","NA1","NA2","NA3","NA"], "paddingInner": 0, "paddingOuter": 0.1}, "axis": null}}},
          {"data": {"values": [{}]}, "mark": {"type": "rule", "color": "#555555", "strokeWidth": 1}, "encoding": {"y": {"datum": 0, "type": "quantitative", "scale": {"domain": [-0.86, 0.283], "nice": false, "zero": false}, "axis": {"title": "ΔTC", "values": [0, -0.3, -0.6], "format": ".1f"}}}},
          {"data": {"name": "b"}, "mark": {"type": "point", "filled": true, "size": 50, "strokeWidth": 0.6, "opacity": 1}, "encoding": {
            "x": {"field": "s", "type": "nominal", "scale": {"domain": ["IA1","IA2","IA3","NC1","NC2","NC3","NS1","NS2","NS3","TP1","TP2","TP3","WA2","WA3","WA4","NA1","NA2","NA3","NA"], "paddingInner": 0, "paddingOuter": 0.1}, "axis": null},
            "xOffset": {"field": "t", "type": "nominal", "scale": {"domain": ["CT","A3","AN"], "paddingInner": 0, "paddingOuter": 1.4}},
            "y": {"field": "TC", "type": "quantitative", "scale": {"domain": [-0.86, 0.283], "nice": false, "zero": false}, "axis": {"title": "ΔTC", "values": [0, -0.3, -0.6], "format": ".1f"}},
            "shape": {"field": "t", "type": "nominal", "scale": {"domain": ["CT","A3","AN"], "range": ["circle","triangle-up","diamond"]}, "legend": null},
            "fill": {"field": "t", "type": "nominal", "scale": {"domain": ["CT","A3","AN"], "range": ["#FFFFFF","#E0A534","#7DC143"]}, "legend": null},
            "stroke": {"field": "t", "type": "nominal", "scale": {"domain": ["CT","A3","AN"], "range": ["#8C8C8C","#5A4720","#2F4F1A"]}, "legend": null}
          }},
          {"data": {"name": "b"}, "transform": [{"filter": "datum.eTC > 0"}], "mark": {"type": "errorbar", "ticks": {"size": 3.5}, "color": "#111111", "thickness": 0.8}, "encoding": {
            "x": {"field": "s", "type": "nominal", "scale": {"domain": ["IA1","IA2","IA3","NC1","NC2","NC3","NS1","NS2","NS3","TP1","TP2","TP3","WA2","WA3","WA4","NA1","NA2","NA3","NA"], "paddingInner": 0, "paddingOuter": 0.1}, "axis": null},
            "xOffset": {"field": "t", "type": "nominal", "scale": {"domain": ["CT","A3","AN"], "paddingInner": 0, "paddingOuter": 1.4}},
            "y": {"field": "TC", "type": "quantitative", "scale": {"domain": [-0.86, 0.283], "nice": false, "zero": false}, "axis": {"title": "ΔTC", "values": [0, -0.3, -0.6], "format": ".1f"}},
            "yError": {"field": "eTC"}
          }}
        ]},
        {"width": 63, "height": 76, "layer": [
          {"data": {"values": [{}]}, "mark": {"type": "rule", "color": "#555555", "strokeWidth": 1}, "encoding": {"y": {"datum": 0, "type": "quantitative", "scale": {"domain": [-0.778, 0.16], "nice": false, "zero": false}, "axis": {"title": null, "values": [0, -0.25, -0.5, -0.75], "format": ".2f"}}}},
          {"data": {"name": "b"}, "mark": {"type": "boxplot", "extent": 1.5, "size": 15, "median": {"color": "#1A1A1A", "strokeWidth": 1.2}, "rule": {"color": "#333333", "strokeWidth": 0.8}, "ticks": false, "outliers": {"color": "#808080", "size": 7, "filled": true}, "box": {"stroke": "#333333", "strokeWidth": 0.7}}, "encoding": {
            "x": {"field": "t", "type": "nominal", "scale": {"domain": ["CT","A3","AN"], "paddingInner": 0, "paddingOuter": 0.1}, "axis": null},
            "y": {"field": "TC", "type": "quantitative", "scale": {"domain": [-0.778, 0.16], "nice": false, "zero": false}, "axis": {"title": null, "values": [0, -0.25, -0.5, -0.75], "format": ".2f"}},
            "color": {"field": "t", "type": "nominal", "scale": {"domain": ["CT","A3","AN"], "range": ["#FFFFFF","#E8C57E","#A7D57C"]}, "legend": null}
          }},
          {"data": {"name": "b"}, "mark": {"type": "line", "color": "#BBBBBB", "strokeWidth": 0.6, "opacity": 0.55}, "encoding": {
            "x": {"field": "t", "type": "nominal", "scale": {"domain": ["CT","A3","AN"], "paddingInner": 0, "paddingOuter": 0.1}, "axis": null},
            "y": {"field": "TC", "type": "quantitative", "scale": {"domain": [-0.778, 0.16], "nice": false, "zero": false}, "axis": {"title": null, "values": [0, -0.25, -0.5, -0.75], "format": ".2f"}},
            "detail": {"field": "s"}, "order": {"value": null}
          }},
          {"data": {"name": "letters"}, "transform": [{"filter": "datum.m == 'TC'"}], "mark": {"type": "text", "baseline": "bottom", "dy": -1, "fontSize": 7.5, "color": "#4D4D4D", "fill": "#4D4D4D"}, "encoding": {
            "x": {"field": "t", "type": "nominal", "scale": {"domain": ["CT","A3","AN"], "paddingInner": 0, "paddingOuter": 0.1}, "axis": null},
            "y": {"datum": 0.16, "type": "quantitative", "scale": {"domain": [-0.778, 0.16], "nice": false, "zero": false}, "axis": {"title": null, "values": [0, -0.25, -0.5, -0.75], "format": ".2f"}}, "text": {"field": "l"}
          }}
        ]},
        {"width": 250, "height": 76, "layer": [
          {"data": {"name": "sep"}, "mark": {"type": "rule", "strokeDash": [3, 3], "color": "#BDBDBD", "strokeWidth": 0.8}, "encoding": {"x": {"field": "site", "type": "nominal", "bandPosition": 0, "scale": {"domain": ["IA1","IA2","IA3","NC1","NC2","NC3","NS1","NS2","NS3","TP1","TP2","TP3","WA2","WA3","WA4","NA1","NA2","NA3","NA"], "paddingInner": 0, "paddingOuter": 0.1}, "axis": {"title": "Site", "labelAngle": -90, "labelFontSize": 8.5, "titlePadding": 1}}}},
          {"data": {"values": [{}]}, "mark": {"type": "rule", "color": "#555555", "strokeWidth": 1}, "encoding": {"y": {"datum": 0, "type": "quantitative", "scale": {"domain": [-1.53, 2.32], "nice": false, "zero": false}, "axis": {"title": "ΔSUVA₂₅₄", "values": [2, 1, 0, -1], "format": "d"}}}},
          {"data": {"name": "b"}, "mark": {"type": "point", "filled": true, "size": 50, "strokeWidth": 0.6, "opacity": 1}, "encoding": {
            "x": {"field": "s", "type": "nominal", "scale": {"domain": ["IA1","IA2","IA3","NC1","NC2","NC3","NS1","NS2","NS3","TP1","TP2","TP3","WA2","WA3","WA4","NA1","NA2","NA3","NA"], "paddingInner": 0, "paddingOuter": 0.1}, "axis": {"title": "Site", "labelAngle": -90, "labelFontSize": 8.5, "titlePadding": 1}},
            "xOffset": {"field": "t", "type": "nominal", "scale": {"domain": ["CT","A3","AN"], "paddingInner": 0, "paddingOuter": 1.4}},
            "y": {"field": "SUVA", "type": "quantitative", "scale": {"domain": [-1.53, 2.32], "nice": false, "zero": false}, "axis": {"title": "ΔSUVA₂₅₄", "values": [2, 1, 0, -1], "format": "d"}},
            "shape": {"field": "t", "type": "nominal", "scale": {"domain": ["CT","A3","AN"], "range": ["circle","triangle-up","diamond"]}, "legend": null},
            "fill": {"field": "t", "type": "nominal", "scale": {"domain": ["CT","A3","AN"], "range": ["#FFFFFF","#E0A534","#7DC143"]}, "legend": null},
            "stroke": {"field": "t", "type": "nominal", "scale": {"domain": ["CT","A3","AN"], "range": ["#8C8C8C","#5A4720","#2F4F1A"]}, "legend": null}
          }},
          {"data": {"name": "b"}, "transform": [{"filter": "datum.eSUVA > 0"}], "mark": {"type": "errorbar", "ticks": {"size": 3.5}, "color": "#111111", "thickness": 0.8}, "encoding": {
            "x": {"field": "s", "type": "nominal", "scale": {"domain": ["IA1","IA2","IA3","NC1","NC2","NC3","NS1","NS2","NS3","TP1","TP2","TP3","WA2","WA3","WA4","NA1","NA2","NA3","NA"], "paddingInner": 0, "paddingOuter": 0.1}, "axis": {"title": "Site", "labelAngle": -90, "labelFontSize": 8.5, "titlePadding": 1}},
            "xOffset": {"field": "t", "type": "nominal", "scale": {"domain": ["CT","A3","AN"], "paddingInner": 0, "paddingOuter": 1.4}},
            "y": {"field": "SUVA", "type": "quantitative", "scale": {"domain": [-1.53, 2.32], "nice": false, "zero": false}, "axis": {"title": "ΔSUVA₂₅₄", "values": [2, 1, 0, -1], "format": "d"}},
            "yError": {"field": "eSUVA"}
          }}
        ]},
        {"width": 63, "height": 76, "layer": [
          {"data": {"values": [{}]}, "mark": {"type": "rule", "color": "#555555", "strokeWidth": 1}, "encoding": {"y": {"datum": 0, "type": "quantitative", "scale": {"domain": [-0.87, 1.45], "nice": false, "zero": false}, "axis": {"title": null, "values": [1, 0.5, 0, -0.5], "format": ".1f"}}}},
          {"data": {"name": "b"}, "mark": {"type": "boxplot", "extent": 1.5, "size": 15, "median": {"color": "#1A1A1A", "strokeWidth": 1.2}, "rule": {"color": "#333333", "strokeWidth": 0.8}, "ticks": false, "outliers": {"color": "#808080", "size": 7, "filled": true}, "box": {"stroke": "#333333", "strokeWidth": 0.7}}, "encoding": {
            "x": {"field": "t", "type": "nominal", "scale": {"domain": ["CT","A3","AN"], "paddingInner": 0, "paddingOuter": 0.1}, "axis": {"title": "Treatment", "labelAngle": -90, "labelFontSize": 8.5, "titleFontSize": 10, "titlePadding": 1}},
            "y": {"field": "SUVA", "type": "quantitative", "scale": {"domain": [-0.87, 1.45], "nice": false, "zero": false}, "axis": {"title": null, "values": [1, 0.5, 0, -0.5], "format": ".1f"}},
            "color": {"field": "t", "type": "nominal", "scale": {"domain": ["CT","A3","AN"], "range": ["#FFFFFF","#E8C57E","#A7D57C"]}, "legend": null}
          }},
          {"data": {"name": "b"}, "mark": {"type": "line", "color": "#BBBBBB", "strokeWidth": 0.6, "opacity": 0.55}, "encoding": {
            "x": {"field": "t", "type": "nominal", "scale": {"domain": ["CT","A3","AN"], "paddingInner": 0, "paddingOuter": 0.1}, "axis": {"title": "Treatment", "labelAngle": -90, "labelFontSize": 8.5, "titleFontSize": 10, "titlePadding": 1}},
            "y": {"field": "SUVA", "type": "quantitative", "scale": {"domain": [-0.87, 1.45], "nice": false, "zero": false}, "axis": {"title": null, "values": [1, 0.5, 0, -0.5], "format": ".1f"}},
            "detail": {"field": "s"}, "order": {"value": null}
          }},
          {"data": {"name": "letters"}, "transform": [{"filter": "datum.m == 'SUVA'"}], "mark": {"type": "text", "baseline": "bottom", "dy": -1, "fontSize": 7.5, "color": "#4D4D4D", "fill": "#4D4D4D"}, "encoding": {
            "x": {"field": "t", "type": "nominal", "scale": {"domain": ["CT","A3","AN"], "paddingInner": 0, "paddingOuter": 0.1}, "axis": {"title": "Treatment", "labelAngle": -90, "labelFontSize": 8.5, "titleFontSize": 10, "titlePadding": 1}},
            "y": {"datum": 1.45, "type": "quantitative", "scale": {"domain": [-0.87, 1.45], "nice": false, "zero": false}, "axis": {"title": null, "values": [1, 0.5, 0, -0.5], "format": ".1f"}}, "text": {"field": "l"}
          }}
        ]}
    ]
  }
  ]
}
]
}
